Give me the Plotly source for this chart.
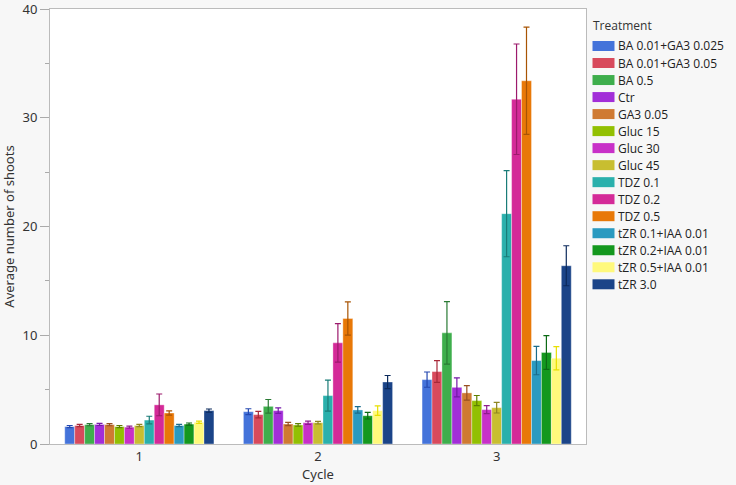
import plotly.graph_objects as go

cycles = ["1", "2", "3"]
treatments = ["BA 0.01+GA3 0.025", "BA 0.01+GA3 0.05", "BA 0.5", "Ctr", "GA3 0.05",
              "Gluc 15", "Gluc 30", "Gluc 45", "TDZ 0.1", "TDZ 0.2", "TDZ 0.5",
              "tZR 0.1+IAA 0.01", "tZR 0.2+IAA 0.01", "tZR 0.5+IAA 0.01", "tZR 3.0"]
colors = ["#4473DA", "#D84A5C", "#3EAE4C", "#A22ED8", "#CF7A32",
          "#92C002", "#C830C8", "#C8BE30", "#2AB0AC", "#D42A98", "#E87808",
          "#2A9AC0", "#14981E", "#FFF97C", "#1B4488"]
err_colors = ["#2448B0", "#A82838", "#2A7A34", "#7418A8", "#985020",
              "#5E8000", "#8E1C8E", "#8E8620", "#1A7C78", "#9C1A6C", "#A85404",
              "#1A6C8C", "#0C6A14", "#E8E000", "#0C2A5C"]
y_ticks = [0, 10, 20, 30, 40]

# values per treatment: [cycle1, cycle2, cycle3]
means = [
    [1.60, 2.97, 5.92],
    [1.70, 2.70, 6.66],
    [1.78, 3.46, 10.22],
    [1.80, 3.07, 5.21],
    [1.78, 1.84, 4.70],
    [1.60, 1.75, 3.99],
    [1.55, 1.96, 3.16],
    [1.70, 1.96, 3.34],
    [2.20, 4.45, 21.18],
    [3.60, 9.30, 31.70],
    [2.85, 11.54, 33.40],
    [1.70, 3.13, 7.67],
    [1.83, 2.60, 8.41],
    [2.00, 3.07, 7.88],
    [3.07, 5.70, 16.39],
]
errors = [
    [0.10, 0.27, 0.70],
    [0.10, 0.30, 1.00],
    [0.10, 0.63, 2.87],
    [0.10, 0.26, 0.87],
    [0.10, 0.15, 0.66],
    [0.10, 0.12, 0.47],
    [0.10, 0.15, 0.37],
    [0.10, 0.12, 0.49],
    [0.35, 1.43, 3.96],
    [1.00, 1.77, 5.08],
    [0.20, 1.53, 4.93],
    [0.10, 0.30, 1.30],
    [0.10, 0.30, 1.55],
    [0.10, 0.43, 1.07],
    [0.15, 0.60, 1.84],
]

fig = go.Figure()
for name, c, ec, m, e in zip(treatments, colors, err_colors, means, errors):
    fig.add_trace(go.Bar(
        x=cycles, y=m, name=name, showlegend=False,
        marker=dict(color=c, line=dict(color="rgba(255,255,255,0.35)", width=1)),
        error_y=dict(type="data", array=e, visible=True, color=ec, thickness=1.2, width=3),
    ))

font = "Noto Sans"
lfont = "Open Sans"
W, H = 736, 485
ml, mr, mt, mb = 50, 150, 9, 41
pw, ph = W - ml - mr, H - mt - mb

def px_x(x):
    return (x - ml) / pw

def px_y(y):
    return 1 - (y - mt) / ph

# custom legend (compact row spacing like the reference)
shapes = []
annotations = [dict(text="Treatment", xref="paper", yref="paper",
                    x=px_x(592), y=px_y(25), xanchor="left", yanchor="middle",
                    showarrow=False, borderpad=0,
                    font=dict(family=lfont, size=12, color="#333333"))]
for i, (name, c) in enumerate(zip(treatments, colors)):
    cy = 46 + i * 17.02
    shapes.append(dict(type="rect", xref="paper", yref="paper",
                       x0=px_x(592.5), x1=px_x(614.5), y0=px_y(cy - 5), y1=px_y(cy + 5),
                       fillcolor=c, line=dict(width=0)))
    annotations.append(dict(text=name, xref="paper", yref="paper",
                            x=px_x(617), y=px_y(cy), xanchor="left", yanchor="middle",
                            showarrow=False, borderpad=0,
                            font=dict(family=lfont, size=12, color="#222222")))

fig.update_layout(
    barmode="group", bargap=0.165, bargroupgap=0,
    width=W, height=H,
    margin=dict(l=ml, r=mr, t=mt, b=mb, autoexpand=False),
    paper_bgcolor="#F7F7F7", plot_bgcolor="#FFFFFF",
    font=dict(family=font, size=12, color="#333333"),
    showlegend=False,
    shapes=shapes, annotations=annotations,
)
fig.update_xaxes(
    title=dict(text="Cycle", standoff=2, font=dict(size=13)),
    showline=True, linecolor="#BBBBBB", mirror=True, linewidth=1, automargin=False,
    ticks="", tickfont=dict(size=13), showgrid=False,
)
fig.update_yaxes(
    title=dict(text="Average number of shoots", standoff=8, font=dict(size=13)),
    range=[0, 40], tickmode="array", tickvals=y_ticks, showgrid=False, zeroline=False,
    showline=True, linecolor="#BBBBBB", mirror=True, linewidth=1, automargin=False,
    ticklabeloverflow="allow",
    ticks="outside", ticklen=9, tickcolor="#AAAAAA", tickfont=dict(size=13),
    minor=dict(dtick=5, ticks="outside", ticklen=4, tickcolor="#AAAAAA"),
)
fig.write_html("out.html")
